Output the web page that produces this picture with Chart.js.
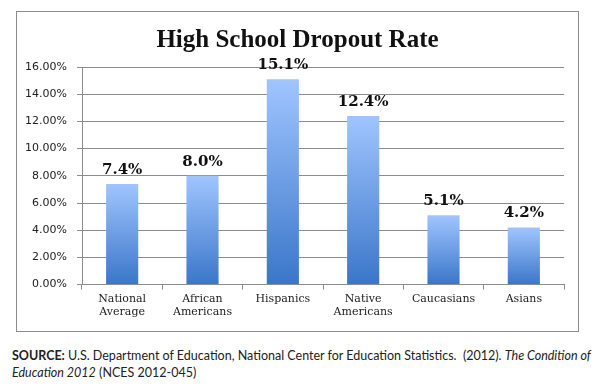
<!DOCTYPE html>
<html>
<head>
<meta charset="utf-8">
<script src="https://cdn.jsdelivr.net/npm/chart.js@4"></script>
<style>
  html, body { margin: 0; padding: 0; background: #fff; width: 596px; height: 386px; overflow: hidden; }
  #box { position: absolute; left: 16px; top: 11px; width: 561px; height: 319px; border: 1px solid #8c8c8c; }
  #c { position: absolute; left: 0; top: 0; }
  #title { position: absolute; left: 0; top: 12px; width: 561px; text-align: center; font-family: "Liberation Serif", serif; font-weight: bold; font-size: 25px; line-height: 30px; color: #111; }
  #src { position: absolute; left: 12px; top: 347px; width: 584px; font-family: Lato, "Open Sans", sans-serif; font-size: 12.5px; line-height: 17px; color: #222; }
</style>
</head>
<body>
<div id="box"><canvas id="c" width="561" height="319"></canvas><div id="title">High School Dropout Rate</div></div>
<div id="src"><b>SOURCE:</b> U.S. Department of Education, National Center for Education Statistics.&nbsp; (2012). <i>The Condition of Education 2012</i> (NCES 2012-045)</div>
<script>
const categories = [["National", "Average"], ["African", "Americans"], "Hispanics", ["Native", "Americans"], "Caucasians", "Asians"];
const rates = [0.074, 0.080, 0.151, 0.124, 0.051, 0.042];
const rateLabels = ["7.4%", "8.0%", "15.1%", "12.4%", "5.1%", "4.2%"];
const yTicks = { min: 0, max: 0.16, step: 0.02 };

const valueLabels = {
  id: 'valueLabels',
  afterDatasetsDraw(chart) {
    const ctx = chart.ctx;
    const meta = chart.getDatasetMeta(0);
    ctx.save();
    ctx.font = 'bold 15px "DejaVu Serif", serif';
    ctx.fillStyle = '#111';
    ctx.textAlign = 'center';
    ctx.textBaseline = 'alphabetic';
    meta.data.forEach((bar, i) => {
      ctx.fillText(rateLabels[i], bar.x, bar.y - 10);
    });
    ctx.restore();
  }
};

function barGradient(context) {
  const chart = context.chart;
  const y = chart.scales.y;
  if (!y || context.dataIndex === undefined) return '#5b8fd9';
  const v = context.dataset.data[context.dataIndex];
  const top = y.getPixelForValue(v);
  const bottom = y.getPixelForValue(0);
  if (!isFinite(top) || !isFinite(bottom)) return '#5b8fd9';
  const g = chart.ctx.createLinearGradient(0, top, 0, bottom);
  g.addColorStop(0, '#a0c5ff');
  g.addColorStop(1, '#3a76c9');
  return g;
}

new Chart(document.getElementById('c'), {
  type: 'bar',
  data: {
    labels: categories,
    datasets: [{
      data: rates,
      backgroundColor: barGradient,
      borderWidth: 0,
      barPercentage: 0.4,
      categoryPercentage: 1.0
    }]
  },
  options: {
    responsive: false,
    animation: false,
    devicePixelRatio: 1,
    layout: { padding: { left: 0, right: 14, top: 55, bottom: 9 } },
    plugins: {
      legend: { display: false },
      tooltip: { enabled: false },
      title: { display: false }
    },
    scales: {
      x: {
        offset: true,
        grid: { offset: true, drawOnChartArea: false, color: '#8c8c8c', tickLength: 5, tickColor: '#8c8c8c' },
        border: { color: '#8c8c8c' },
        ticks: {
          color: '#222',
          font: { family: '"DejaVu Serif", serif', size: 11 },
          maxRotation: 0,
          autoSkip: false,
          padding: 3
        }
      },
      y: {
        min: yTicks.min,
        max: yTicks.max,
        afterFit(scale) { scale.width = 65; },
        grid: { color: '#8c8c8c', tickLength: 5, tickColor: '#8c8c8c' },
        border: { color: '#8c8c8c' },
        ticks: {
          stepSize: yTicks.step,
          color: '#222',
          font: { family: '"DejaVu Sans", sans-serif', size: 11 },
          padding: 10,
          callback: v => (v * 100).toFixed(2) + '%'
        }
      }
    }
  },
  plugins: [valueLabels]
});
</script>
</body>
</html>
